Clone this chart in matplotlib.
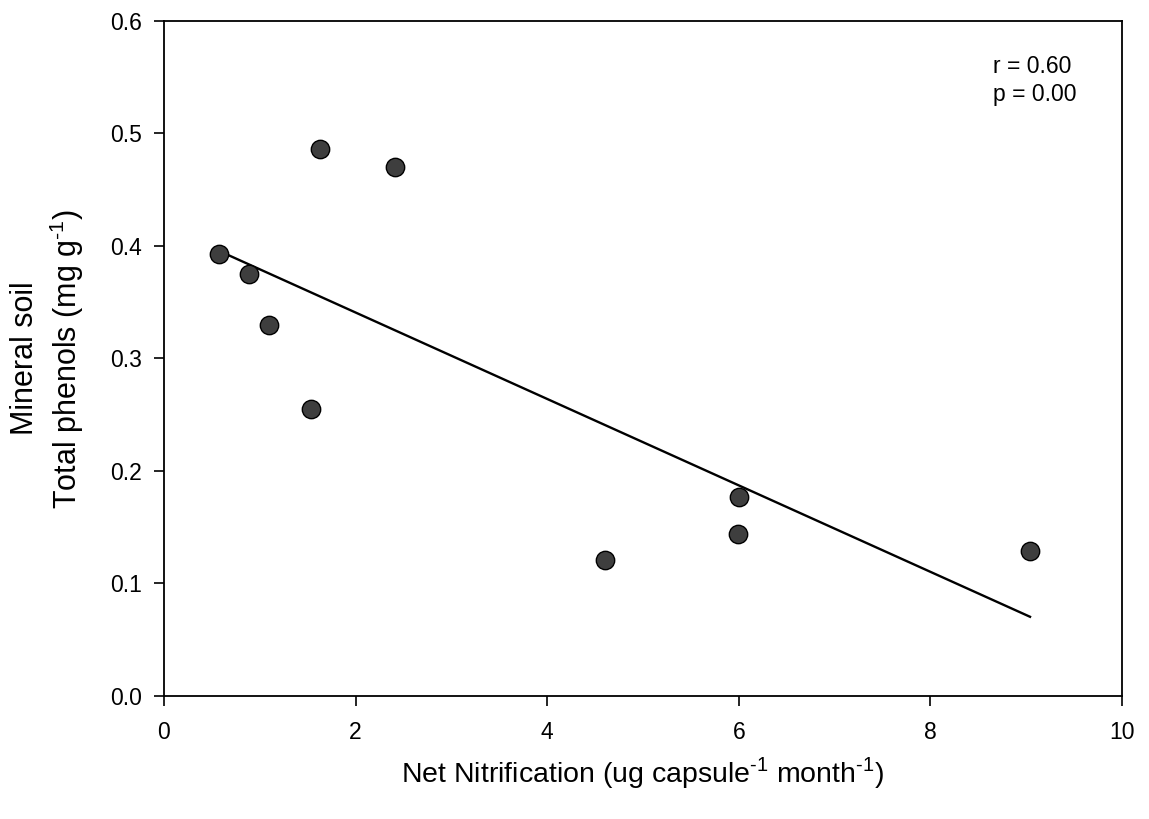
import numpy as np
import matplotlib
matplotlib.use("Agg")
import matplotlib.pyplot as plt

plt.rcParams['font.family'] = ['Liberation Sans', 'DejaVu Sans']
plt.rcParams['mathtext.fontset'] = 'custom'
plt.rcParams['mathtext.rm'] = 'Liberation Sans'

# Net nitrification vs. mineral-soil total phenols
nitrification = [0.57, 0.89, 1.10, 1.53, 1.63, 2.41, 4.60, 5.99, 6.00, 9.04]
phenols = [0.393, 0.375, 0.330, 0.255, 0.486, 0.470, 0.121, 0.144, 0.177, 0.129]
x_ticks = [0, 2, 4, 6, 8, 10]
y_ticks = [0.0, 0.1, 0.2, 0.3, 0.4, 0.5, 0.6]
stats_text = "r = 0.60\np = 0.00"

fig = plt.figure(figsize=(11.49, 8.19), dpi=100)
ax = fig.add_axes([0.1427, 0.1502, 0.8338, 0.8242])

x = np.array(nitrification)
y = np.array(phenols)

# least-squares fit drawn across the observed range
slope, intercept = np.polyfit(x, y, 1)
xf = np.array([x.min(), x.max()])
ax.plot(xf, slope * xf + intercept, color='black', lw=1.7, zorder=2)

ax.scatter(x, y, s=175, facecolor='#3e3e3e', edgecolor='black',
           linewidth=1.0, zorder=3)

ax.set_xlim(0, 10)
ax.set_ylim(0, 0.6)
ax.set_xticks(x_ticks)
ax.set_xticklabels([str(t) for t in x_ticks])
ax.set_yticks(y_ticks)
ax.set_yticklabels([f"{t:.1f}" for t in y_ticks])
ax.tick_params(direction='out', length=7, width=1.2, labelsize=16.5)
ax.tick_params(axis='x', pad=11)
ax.tick_params(axis='y', pad=9)
for s in ax.spines.values():
    s.set_linewidth(1.3)

ax.text(0.865, 0.950, stats_text, transform=ax.transAxes, fontsize=16.5,
        va='top', ha='left', linespacing=1.3)

# superscript "-1" with a short hyphen
sup = "$^{\\mathregular{\u20101}}$"
ax.set_xlabel("Net Nitrification (ug capsule" + sup + " month" + sup + ")",
              fontsize=20.5)
ax.xaxis.set_label_coords(0.5, -0.087)
ax.set_ylabel("Mineral soil\nTotal phenols (mg g" + sup + ")",
              fontsize=22, linespacing=1.25)
ax.yaxis.set_label_coords(-0.0815, 0.5)

fig.savefig("out.png", dpi=100)
